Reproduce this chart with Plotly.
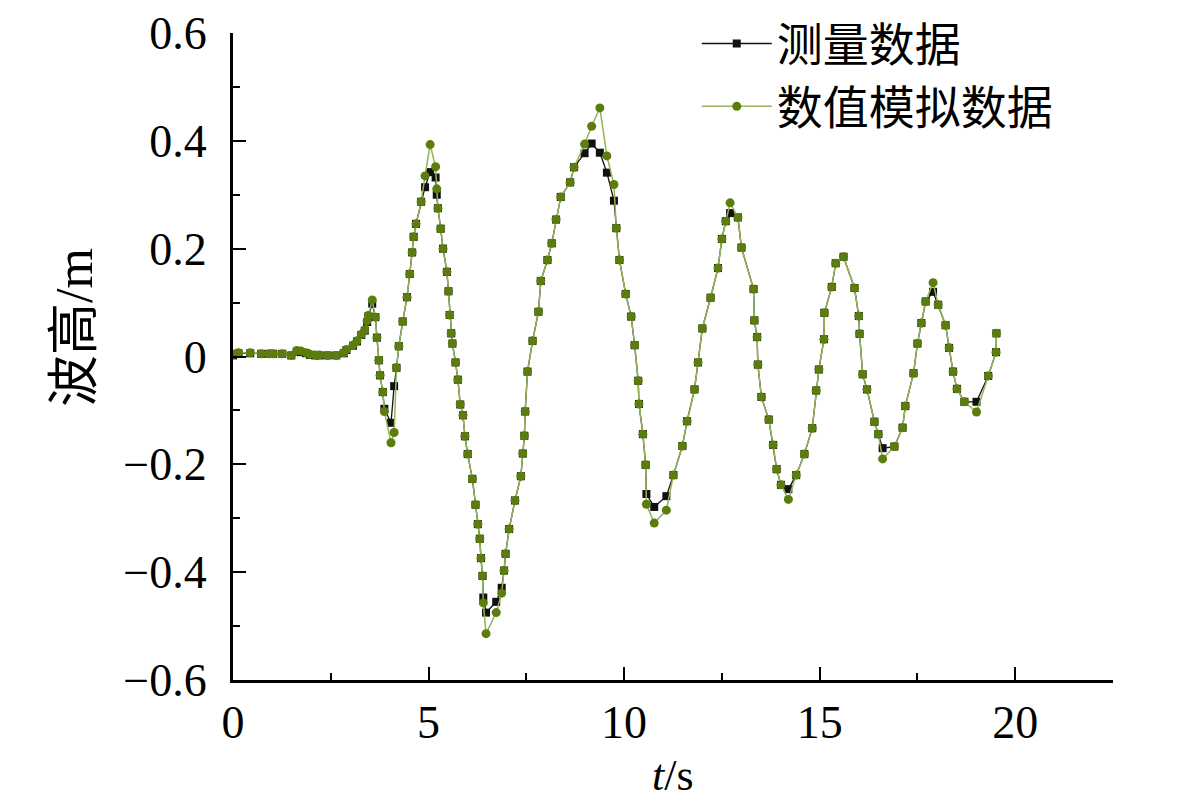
import plotly.graph_objects as go

# time (s) shared by both series
t = [0.00, 0.14, 0.44, 0.72, 0.93, 1.03, 1.26, 1.49, 1.63, 1.74, 1.87, 1.97, 2.10, 2.21, 2.42,
     2.64, 2.83, 2.90, 3.07, 3.17, 3.28, 3.37, 3.43, 3.46, 3.56, 3.64, 3.68, 3.73, 3.76, 3.83,
     3.87, 4.04, 4.12, 4.18, 4.24, 4.34, 4.45, 4.52, 4.58, 4.62, 4.68, 4.81, 4.91, 5.04, 5.18,
     5.21, 5.24, 5.31, 5.37, 5.47, 5.51, 5.54, 5.58, 5.61, 5.69, 5.75, 5.81, 5.88, 5.93, 6.00,
     6.12, 6.20, 6.26, 6.31, 6.34, 6.38, 6.40, 6.47, 6.73, 6.87, 6.93, 6.97, 7.06, 7.21, 7.36,
     7.41, 7.45, 7.47, 7.53, 7.66, 7.81, 7.87, 8.04, 8.15, 8.26, 8.38, 8.62, 8.72, 8.99, 9.17,
     9.38, 9.56, 9.74, 9.80, 9.88, 10.04, 10.18, 10.27, 10.36, 10.38, 10.48, 10.55, 10.57, 10.77, 11.08,
     11.26, 11.49, 11.61, 11.80, 11.89, 12.00, 12.21, 12.40, 12.50, 12.60, 12.71, 12.91, 13.00, 13.31, 13.33,
     13.40, 13.42, 13.51, 13.70, 13.81, 13.90, 14.01, 14.20, 14.40, 14.61, 14.81, 14.91, 14.98, 15.11, 15.12,
     15.31, 15.41, 15.61, 15.89, 16.00, 16.02, 16.10, 16.21, 16.40, 16.50, 16.61, 16.91, 17.12, 17.19, 17.40,
     17.50, 17.60, 17.71, 17.90, 18.03, 18.22, 18.31, 18.41, 18.51, 18.70, 19.01, 19.31, 19.51, 19.52]

# measured wave height (m)
h_meas = [0.002, 0.006, 0.006, 0.005, 0.005, 0.005, 0.005, 0.002, 0.009, 0.008, 0.006, 0.003, 0.002, 0.002, 0.002,
          0.002, 0.006, 0.012, 0.020, 0.028, 0.040, 0.048, 0.064, 0.074, 0.098, 0.073, 0.035, -0.007, -0.035, -0.066,
          -0.097, -0.123, -0.055, -0.021, 0.019, 0.065, 0.110, 0.153, 0.193, 0.222, 0.246, 0.287, 0.314, 0.342, 0.332,
          0.300, 0.275, 0.237, 0.200, 0.157, 0.121, 0.077, 0.043, 0.024, -0.011, -0.043, -0.089, -0.109, -0.148, -0.181,
          -0.227, -0.275, -0.311, -0.338, -0.374, -0.407, -0.447, -0.475, -0.455, -0.429, -0.397, -0.366, -0.320, -0.267, -0.222,
          -0.180, -0.147, -0.102, -0.028, 0.029, 0.083, 0.140, 0.179, 0.210, 0.254, 0.296, 0.323, 0.351, 0.377, 0.395,
          0.378, 0.341, 0.289, 0.238, 0.179, 0.116, 0.074, 0.021, -0.045, -0.088, -0.144, -0.201, -0.255, -0.279, -0.259,
          -0.220, -0.166, -0.120, -0.061, -0.011, 0.052, 0.109, 0.164, 0.218, 0.251, 0.266, 0.258, 0.202, 0.125, 0.067,
          0.036, -0.015, -0.075, -0.117, -0.164, -0.209, -0.238, -0.246, -0.220, -0.181, -0.133, -0.063, -0.024, 0.032, 0.081,
          0.129, 0.173, 0.185, 0.127, 0.075, 0.042, -0.033, -0.061, -0.121, -0.144, -0.170, -0.167, -0.132, -0.092, -0.031,
          0.024, 0.062, 0.102, 0.120, 0.096, 0.058, 0.016, -0.028, -0.060, -0.084, -0.084, -0.036, 0.008, 0.043]

# numerically simulated wave height (m)
h_sim = [0.004, 0.007, 0.007, 0.005, 0.005, 0.005, 0.005, 0.002, 0.011, 0.010, 0.007, 0.004, 0.003, 0.003, 0.002,
         0.002, 0.007, 0.013, 0.021, 0.029, 0.041, 0.049, 0.066, 0.076, 0.105, 0.073, 0.035, -0.007, -0.035, -0.066,
         -0.102, -0.160, -0.141, -0.021, 0.019, 0.065, 0.110, 0.153, 0.193, 0.222, 0.246, 0.287, 0.335, 0.393, 0.352,
         0.311, 0.275, 0.237, 0.200, 0.157, 0.121, 0.077, 0.043, 0.024, -0.011, -0.043, -0.089, -0.109, -0.148, -0.181,
         -0.227, -0.275, -0.311, -0.338, -0.374, -0.407, -0.457, -0.514, -0.475, -0.439, -0.397, -0.366, -0.320, -0.267, -0.222,
         -0.180, -0.147, -0.102, -0.028, 0.029, 0.083, 0.140, 0.179, 0.210, 0.254, 0.296, 0.323, 0.351, 0.394, 0.427,
         0.461, 0.372, 0.319, 0.238, 0.179, 0.116, 0.074, 0.021, -0.045, -0.088, -0.144, -0.201, -0.274, -0.309, -0.285,
         -0.220, -0.166, -0.120, -0.061, -0.011, 0.052, 0.109, 0.164, 0.218, 0.251, 0.285, 0.258, 0.202, 0.125, 0.067,
         0.036, -0.015, -0.075, -0.117, -0.164, -0.209, -0.238, -0.265, -0.220, -0.181, -0.133, -0.063, -0.024, 0.032, 0.081,
         0.129, 0.173, 0.185, 0.127, 0.075, 0.042, -0.033, -0.061, -0.121, -0.144, -0.190, -0.167, -0.132, -0.092, -0.031,
         0.024, 0.062, 0.102, 0.137, 0.096, 0.058, 0.016, -0.028, -0.060, -0.084, -0.103, -0.036, 0.008, 0.043]

FONT = 'Liberation Serif, Noto Sans CJK SC, serif'
CJK = 'Noto Sans CJK SC, Liberation Serif, sans-serif'

fig = go.Figure()

fig.add_trace(go.Scatter(
    x=t, y=h_meas, mode='lines+markers', name='测量数据',
    line=dict(color='#111111', width=1.3),
    marker=dict(symbol='square', size=8, color='#111111'),
))

fig.add_trace(go.Scatter(
    x=t, y=h_sim, mode='lines+markers', name='数值模拟数据',
    line=dict(color='#98b25a', width=1.5),
    marker=dict(symbol='circle', size=9, color='#5b7d0e'),
))

axis_common = dict(
    showline=True, linewidth=3, linecolor='black', mirror=False,
    showgrid=False, zeroline=False,
    ticks='inside', ticklen=13, tickwidth=2, tickcolor='black',
    tickfont=dict(family=FONT, size=46, color='black'),
)

# page body adds an 8px offset, so the figure is 8px smaller and margins shifted
fig.update_layout(
    width=1173, height=798,
    margin=dict(l=225, r=68, t=25, b=126, autoexpand=False),
    plot_bgcolor='white', paper_bgcolor='white',
    xaxis=dict(range=[0, 22.5], tick0=0, dtick=5,
               minor=dict(dtick=2.5, ticks='inside', ticklen=7, tickwidth=2, tickcolor='black'),
               **axis_common),
    yaxis=dict(range=[-0.6, 0.6], tick0=0, dtick=0.2, ticklabelstandoff=14,
               minor=dict(dtick=0.1, ticks='inside', ticklen=7, tickwidth=2, tickcolor='black'),
               **axis_common),
    legend=dict(x=0.527, y=1.04, xanchor='left', yanchor='top',
                font=dict(family=CJK, size=46, color='black'),
                bgcolor='rgba(0,0,0,0)', itemwidth=70, tracegroupgap=0),
    showlegend=True,
    annotations=[
        dict(text='波高/m', xref='paper', yref='paper', x=-0.18, y=0.545,
             xanchor='center', yanchor='middle', textangle=-90, showarrow=False,
             font=dict(family=FONT, size=52, color='black')),
        dict(text='<i>t</i>/s', xref='paper', yref='paper', x=0.5, y=-0.148,
             xanchor='center', yanchor='middle', showarrow=False,
             font=dict(family=FONT, size=44, color='black')),
    ],
)

fig.write_html("out.html")
